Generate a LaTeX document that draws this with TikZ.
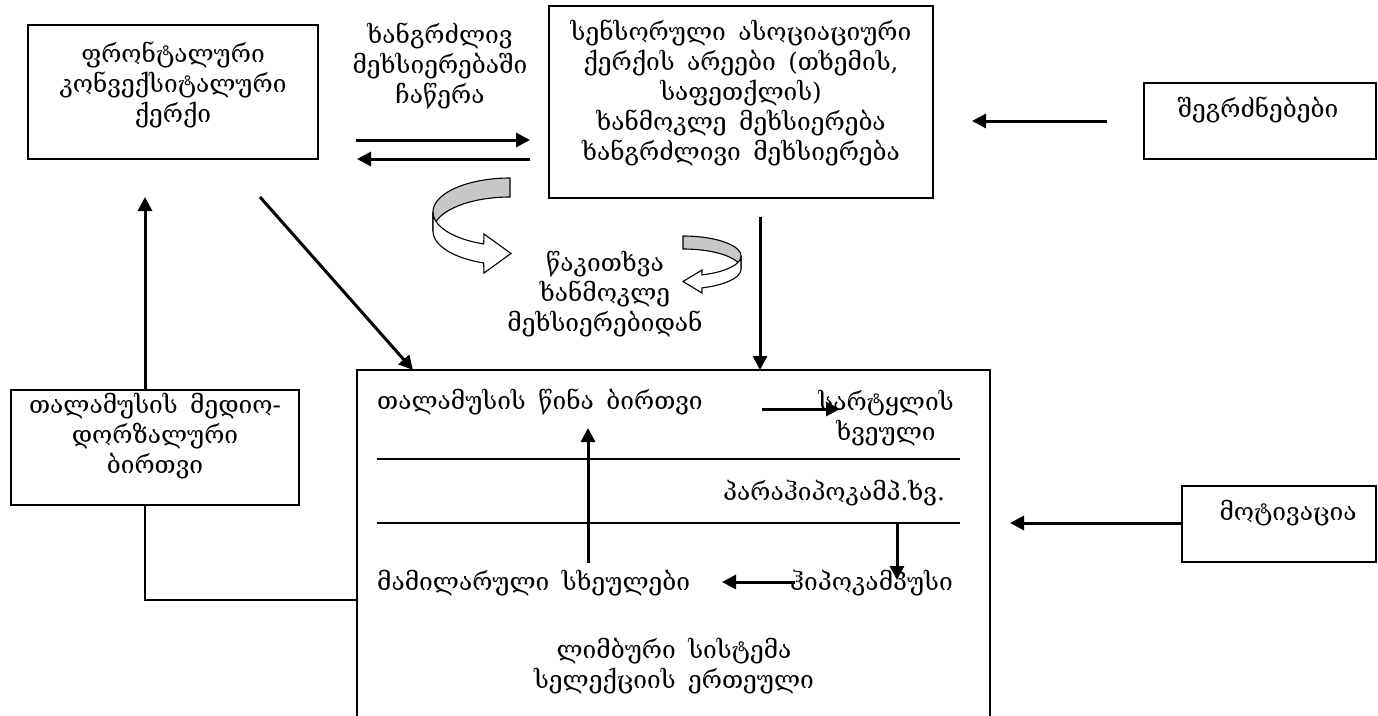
\documentclass[tikz,border=0pt]{standalone}
\usepackage{fontspec}
\newfontfamily\geo[WordSpace=1.6]{DejaVu Serif}
\usetikzlibrary{arrows.meta}
\begin{document}
\begin{tikzpicture}[x=1pt,y=-1pt,
  box/.style={draw, line width=1.4pt, inner sep=0pt},
  txt/.style={font=\geo\fontsize{24.5}{30}\selectfont, align=center, inner sep=0pt},
  arr/.style={-{Triangle[length=14pt,width=14pt]}, line width=3pt},
  thin/.style={line width=1.3pt},
  ribbonback/.style={draw, line width=1.1pt, fill=black!22},
  ribbonfront/.style={draw, line width=1.1pt, fill=white}]
\useasboundingbox (0,0) rectangle (1378,715);
\clip (0,0) rectangle (1378,715);
\fill[white] (0,0) rectangle (1378,715);

% boxes
\node[box, minimum width=290pt, minimum height=134pt] (frontal) at (173,92) {};
\node[box, minimum width=384pt, minimum height=192pt] (sensor) at (741,102) {};
\node[box, minimum width=232pt, minimum height=76pt] (sensation) at (1260,121) {};
\node[box, minimum width=288pt, minimum height=115pt] (md) at (155,447.5) {};
\node[box, minimum width=194pt, minimum height=76pt] (motiv) at (1279,524) {};
\node[box, minimum width=633pt, minimum height=390pt] (main) at (673.5,565) {};

% texts
\node[txt] (frontalT) at (173,85) {ფრონტალური\\კონვექსიტალური\\ქერქი};
\node[txt] (longT) at (440,66) {ხანგრძლივ\\მეხსიერებაში\\ჩაწერა};
\node[txt] (sensorT) at (741,93) {სენსორული ასოციაციური\\ქერქის არეები (თხემის,\\საფეთქლის)\\ხანმოკლე მეხსიერება\\ხანგრძლივი მეხსიერება};
\node[txt] (sensationT) at (1258,110) {შეგრძნებები};
\node[txt] (readT) at (605,294) {წაკითხვა\\ხანმოკლე\\მეხსიერებიდან};
\node[txt] (mdT) at (155,436) {თალამუსის მედიო-\\დორზალური\\ბირთვი};
\node[txt] (motivT) at (1288,513) {მოტივაცია};
\node[txt, anchor=west] (antT) at (377,402) {თალამუსის წინა ბირთვი};
\node[txt] (cingT) at (886,418) {სარტყლის\\ხვეული};
\node[txt, anchor=east] (paraT) at (945,493) {პარაჰიპოკამპ.ხვ.};
\node[txt, anchor=west] (mamT) at (377,583) {მამილარული სხეულები};
\node[txt, anchor=west] (hipT) at (790,583) {ჰიპოკამპუსი};
\node[txt] (limbT) at (674,666) {ლიმბური სისტემა\\სელექციის ერთეული};

% connector end points
\coordinate (wA) at (356,140); \coordinate (wB) at (530,140);
\coordinate (rA) at (530,159); \coordinate (rB) at (357,159);
\coordinate (sA) at (1107,121); \coordinate (sB) at (972,121);
\coordinate (fA) at (260,197); \coordinate (fB) at (413,370);
\coordinate (mA) at (145,390); \coordinate (mB) at (145,197);
\coordinate (dA) at (760,217); \coordinate (dB) at (760,370);
\coordinate (oA) at (1182,523); \coordinate (oB) at (1010,523);
\coordinate (iA) at (762,409); \coordinate (iB) at (840,409);
\coordinate (uA) at (588,563); \coordinate (uB) at (588,428);
\coordinate (hA) at (897,523); \coordinate (hB) at (897,580);
\coordinate (lA) at (795,582); \coordinate (lB) at (722,582);
\coordinate (c1) at (145,505); \coordinate (c2) at (145,600); \coordinate (c3) at (357,600);
\coordinate (ln1a) at (377,459); \coordinate (ln1b) at (960,459);
\coordinate (ln2a) at (377,523); \coordinate (ln2b) at (960,523);

% arrows
\draw[arr] (wA) -- (wB);
\draw[arr] (rA) -- (rB);
\draw[arr] (sA) -- (sB);
\draw[arr] (fA) -- (fB);
\draw[arr] (mA) -- (mB);
\draw[arr] (dA) -- (dB);
\draw[arr] (oA) -- (oB);
\draw[arr] (iA) -- (iB);
\draw[arr] (uA) -- (uB);
\draw[arr] (hA) -- (hB);
\draw[arr] (lA) -- (lB);
\draw[thin] (c1) -- (c2) -- (c3);
\draw[thin] (ln1a) -- (ln1b);
\draw[thin] (ln2a) -- (ln2b);

% curved block arrow (left)
\draw[ribbonback] plot[domain=90:180, samples=40] ({510+77*cos(\x)},{212-34*sin(\x)})
  -- plot[domain=180:90, samples=40] ({510+77*cos(\x)},{231-34*sin(\x)}) -- cycle;
\draw[ribbonfront] plot[domain=180:250, samples=40] ({510+77*cos(\x)},{212-34*sin(\x)})
  -- (484,234) -- (511,253.5) -- (484,273)
  -- plot[domain=250:180, samples=40] ({510+77*cos(\x)},{231-34*sin(\x)}) -- cycle;

% curved block arrow (right)
\draw[ribbonback] plot[domain=90:0, samples=40] ({683+58*cos(\x)},{256-20*sin(\x)})
  -- plot[domain=0:90, samples=40] ({683+58*cos(\x)},{269-20*sin(\x)}) -- cycle;
\draw[ribbonfront] plot[domain=0:-71, samples=40] ({683+58*cos(\x)},{256-20*sin(\x)})
  -- (702,270) -- (683,281.5) -- (702,293)
  -- plot[domain=-71:0, samples=40] ({683+58*cos(\x)},{269-20*sin(\x)}) -- cycle;
\end{tikzpicture}
\end{document}
